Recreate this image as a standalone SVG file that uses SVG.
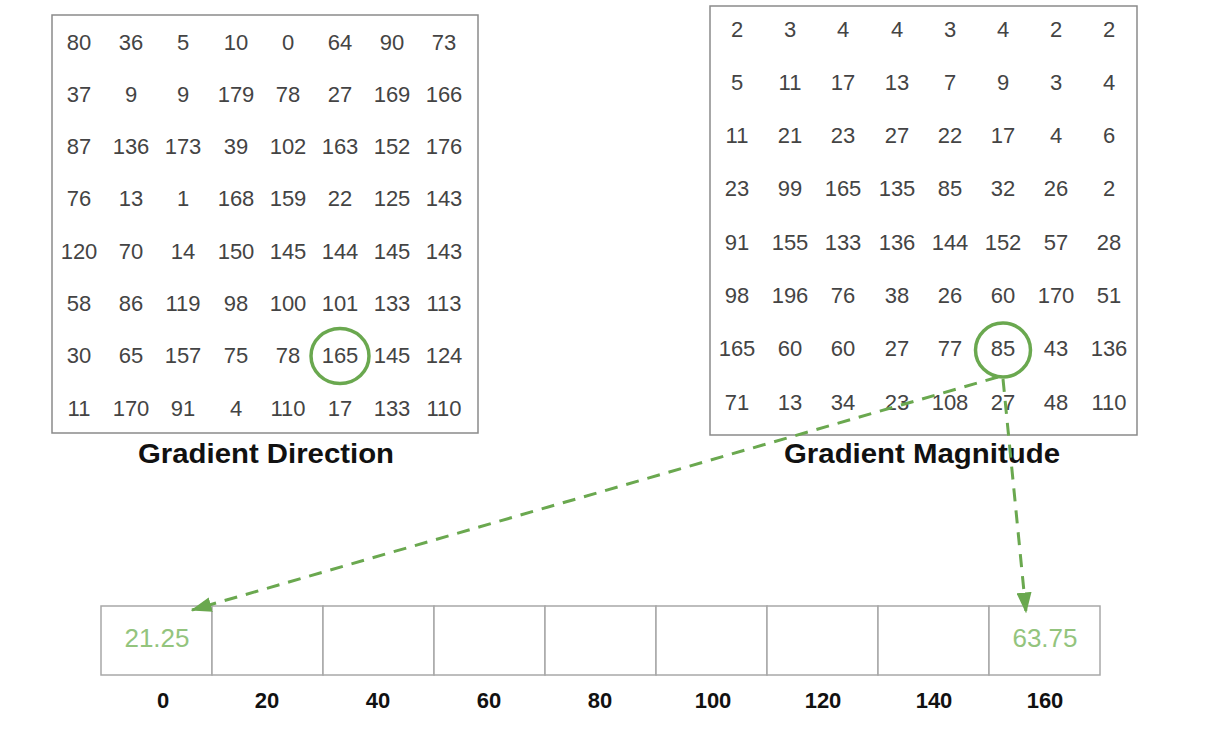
<svg xmlns="http://www.w3.org/2000/svg" width="1222" height="744" viewBox="0 0 1222 744">
<style>
.box{fill:#fff;stroke:#8a8a8a;stroke-width:1.5}
.cell{fill:#fff;stroke:#a8a8a8;stroke-width:1.5}
.n{font-family:"Liberation Sans",Arial,sans-serif;font-size:22px;fill:#444;text-anchor:middle}
.t{font-family:"Liberation Sans",Arial,sans-serif;font-size:27px;font-weight:bold;fill:#111;text-anchor:middle}
.l{font-family:"Liberation Sans",Arial,sans-serif;font-size:22px;font-weight:bold;fill:#111;text-anchor:middle}
.g{font-family:"Liberation Sans",Arial,sans-serif;font-size:26px;fill:#93c47d;text-anchor:middle}
.ring{fill:none;stroke:#6aa84f;stroke-width:3.5}
.conn{fill:none;stroke:#6aa84f;stroke-width:3;stroke-dasharray:13 9}
</style>
<defs>
<marker id="ah" viewBox="0 0 14 10" refX="13" refY="5" markerWidth="7" markerHeight="5" orient="auto" markerUnits="strokeWidth">
<path d="M0,0 L14,5 L0,10 z" fill="#6aa84f"/>
</marker>
</defs>
<rect width="1222" height="744" fill="#fff"/>

<g id="direction">
<rect class="box" x="52" y="15" width="426" height="418"/>
<g transform="translate(0,49.5)"><text class="n" x="79">80</text><text class="n" x="131">36</text><text class="n" x="183">5</text><text class="n" x="236">10</text><text class="n" x="288">0</text><text class="n" x="340">64</text><text class="n" x="392">90</text><text class="n" x="444">73</text></g>
<g transform="translate(0,101.8)"><text class="n" x="79">37</text><text class="n" x="131">9</text><text class="n" x="183">9</text><text class="n" x="236">179</text><text class="n" x="288">78</text><text class="n" x="340">27</text><text class="n" x="392">169</text><text class="n" x="444">166</text></g>
<g transform="translate(0,154.1)"><text class="n" x="79">87</text><text class="n" x="131">136</text><text class="n" x="183">173</text><text class="n" x="236">39</text><text class="n" x="288">102</text><text class="n" x="340">163</text><text class="n" x="392">152</text><text class="n" x="444">176</text></g>
<g transform="translate(0,206.4)"><text class="n" x="79">76</text><text class="n" x="131">13</text><text class="n" x="183">1</text><text class="n" x="236">168</text><text class="n" x="288">159</text><text class="n" x="340">22</text><text class="n" x="392">125</text><text class="n" x="444">143</text></g>
<g transform="translate(0,258.7)"><text class="n" x="79">120</text><text class="n" x="131">70</text><text class="n" x="183">14</text><text class="n" x="236">150</text><text class="n" x="288">145</text><text class="n" x="340">144</text><text class="n" x="392">145</text><text class="n" x="444">143</text></g>
<g transform="translate(0,311)"><text class="n" x="79">58</text><text class="n" x="131">86</text><text class="n" x="183">119</text><text class="n" x="236">98</text><text class="n" x="288">100</text><text class="n" x="340">101</text><text class="n" x="392">133</text><text class="n" x="444">113</text></g>
<g transform="translate(0,363.3)"><text class="n" x="79">30</text><text class="n" x="131">65</text><text class="n" x="183">157</text><text class="n" x="236">75</text><text class="n" x="288">78</text><text class="n" x="340">165</text><text class="n" x="392">145</text><text class="n" x="444">124</text></g>
<g transform="translate(0,415.6)"><text class="n" x="79">11</text><text class="n" x="131">170</text><text class="n" x="183">91</text><text class="n" x="236">4</text><text class="n" x="288">110</text><text class="n" x="340">17</text><text class="n" x="392">133</text><text class="n" x="444">110</text></g>
<ellipse class="ring" cx="340" cy="356" rx="29" ry="27.5"/>
<text class="t" x="266" y="463" textLength="256" lengthAdjust="spacingAndGlyphs">Gradient Direction</text>
</g>

<g id="magnitude">
<rect class="box" x="710" y="6" width="427" height="429"/>
<g transform="translate(0,36.5)"><text class="n" x="737">2</text><text class="n" x="790">3</text><text class="n" x="843">4</text><text class="n" x="897">4</text><text class="n" x="950">3</text><text class="n" x="1003">4</text><text class="n" x="1056">2</text><text class="n" x="1109">2</text></g>
<g transform="translate(0,89.8)"><text class="n" x="737">5</text><text class="n" x="790">11</text><text class="n" x="843">17</text><text class="n" x="897">13</text><text class="n" x="950">7</text><text class="n" x="1003">9</text><text class="n" x="1056">3</text><text class="n" x="1109">4</text></g>
<g transform="translate(0,143.1)"><text class="n" x="737">11</text><text class="n" x="790">21</text><text class="n" x="843">23</text><text class="n" x="897">27</text><text class="n" x="950">22</text><text class="n" x="1003">17</text><text class="n" x="1056">4</text><text class="n" x="1109">6</text></g>
<g transform="translate(0,196.4)"><text class="n" x="737">23</text><text class="n" x="790">99</text><text class="n" x="843">165</text><text class="n" x="897">135</text><text class="n" x="950">85</text><text class="n" x="1003">32</text><text class="n" x="1056">26</text><text class="n" x="1109">2</text></g>
<g transform="translate(0,249.7)"><text class="n" x="737">91</text><text class="n" x="790">155</text><text class="n" x="843">133</text><text class="n" x="897">136</text><text class="n" x="950">144</text><text class="n" x="1003">152</text><text class="n" x="1056">57</text><text class="n" x="1109">28</text></g>
<g transform="translate(0,303)"><text class="n" x="737">98</text><text class="n" x="790">196</text><text class="n" x="843">76</text><text class="n" x="897">38</text><text class="n" x="950">26</text><text class="n" x="1003">60</text><text class="n" x="1056">170</text><text class="n" x="1109">51</text></g>
<g transform="translate(0,356.3)"><text class="n" x="737">165</text><text class="n" x="790">60</text><text class="n" x="843">60</text><text class="n" x="897">27</text><text class="n" x="950">77</text><text class="n" x="1003">85</text><text class="n" x="1056">43</text><text class="n" x="1109">136</text></g>
<g transform="translate(0,409.6)"><text class="n" x="737">71</text><text class="n" x="790">13</text><text class="n" x="843">34</text><text class="n" x="897">23</text><text class="n" x="950">108</text><text class="n" x="1003">27</text><text class="n" x="1056">48</text><text class="n" x="1109">110</text></g>
<ellipse class="ring" cx="1003" cy="350" rx="27.5" ry="27"/>
<text class="t" x="922" y="463" textLength="276" lengthAdjust="spacingAndGlyphs">Gradient Magnitude</text>
</g>

<g id="histogram">
<rect class="cell" x="101" y="606" width="111" height="69"/>
<rect class="cell" x="212" y="606" width="111" height="69"/>
<rect class="cell" x="323" y="606" width="111" height="69"/>
<rect class="cell" x="434" y="606" width="111" height="69"/>
<rect class="cell" x="545" y="606" width="111" height="69"/>
<rect class="cell" x="656" y="606" width="111" height="69"/>
<rect class="cell" x="767" y="606" width="111" height="69"/>
<rect class="cell" x="878" y="606" width="111" height="69"/>
<rect class="cell" x="989" y="606" width="111" height="69"/>
<text class="g" x="157" y="647">21.25</text>
<text class="g" x="1045" y="647">63.75</text>
<text class="l" x="163" y="708">0</text>
<text class="l" x="267" y="708">20</text>
<text class="l" x="378" y="708">40</text>
<text class="l" x="489" y="708">60</text>
<text class="l" x="600" y="708">80</text>
<text class="l" x="713" y="708">100</text>
<text class="l" x="823" y="708">120</text>
<text class="l" x="934" y="708">140</text>
<text class="l" x="1045" y="708">160</text>
</g>

<g id="connectors">
<path class="conn" d="M998,377 L192,610" marker-end="url(#ah)"/>
<path class="conn" d="M1003,379 L1026,612" marker-end="url(#ah)"/>
</g>
</svg>
